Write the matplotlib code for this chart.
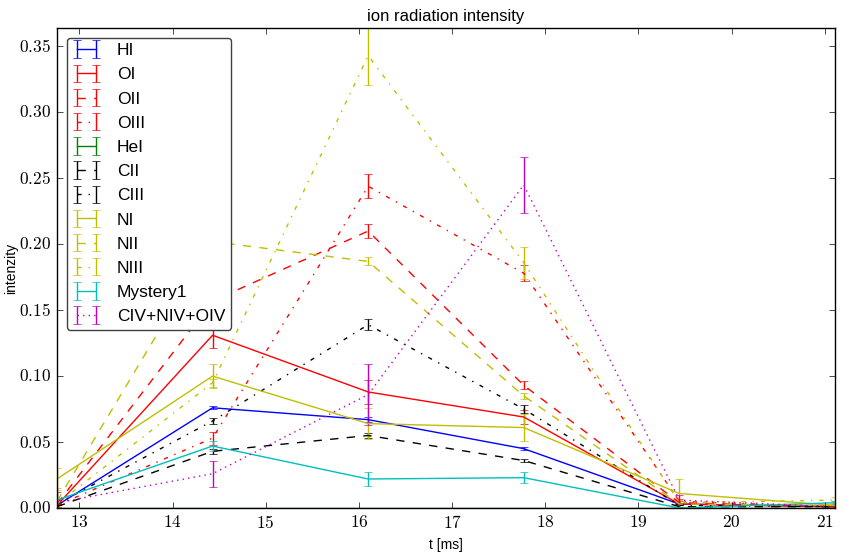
import numpy as np
import matplotlib
matplotlib.use("Agg")
import matplotlib.pyplot as plt
from matplotlib.ticker import FuncFormatter

plt.style.use('classic')
plt.rcParams['mathtext.fontset'] = 'cm'
plt.rcParams['font.family'] = ['Liberation Sans', 'DejaVu Sans']

t = np.array([12.76, 14.43, 16.10, 17.77, 19.44, 21.11])

labels = ["HI", "OI", "OII", "OIII", "HeI", "CII", "CIII",
          "NI", "NII", "NIII", "Mystery1", "CIV+NIV+OIV"]

HI = [0.002, 0.076, 0.067, 0.045, 0.003, 0.001]
HI_err = [0.001, 0.001, 0.002, 0.001, 0.001, 0.001]
OI = [0.002, 0.131, 0.088, 0.069, 0.003, 0.001]
OI_err = [0.001, 0.010, 0.009, 0.005, 0.001, 0.001]
OII = [0.003, 0.157, 0.210, 0.093, 0.004, 0.001]
OII_err = [0.001, 0.003, 0.005, 0.003, 0.001, 0.001]
OIII = [0.002, 0.053, 0.244, 0.178, 0.005, 0.001]
OIII_err = [0.001, 0.005, 0.009, 0.006, 0.002, 0.001]
HeI = [0.0, 0.0, 0.0, 0.0, 0.0, 0.0]
HeI_err = [0.0, 0.0, 0.0, 0.0, 0.0, 0.0]
CII = [0.001, 0.043, 0.055, 0.036, 0.001, 0.001]
CII_err = [0.001, 0.002, 0.002, 0.001, 0.001, 0.001]
CIII = [0.003, 0.066, 0.139, 0.075, 0.002, 0.001]
CIII_err = [0.001, 0.002, 0.004, 0.003, 0.001, 0.001]
NI = [0.022, 0.100, 0.064, 0.061, 0.011, 0.002]
NI_err = [0.008, 0.009, 0.012, 0.010, 0.011, 0.001]
NII = [0.005, 0.202, 0.187, 0.085, 0.003, 0.002]
NII_err = [0.010, 0.002, 0.003, 0.002, 0.001, 0.001]
NIII = [0.003, 0.095, 0.343, 0.186, 0.004, 0.006]
NIII_err = [0.002, 0.003, 0.022, 0.012, 0.002, 0.002]
Mystery1 = [0.006, 0.047, 0.022, 0.023, 0.0, 0.004]
Mystery1_err = [0.001, 0.004, 0.005, 0.004, 0.001, 0.001]
CIV = [0.004, 0.026, 0.086, 0.245, 0.006, 0.001]
CIV_err = [0.008, 0.010, 0.023, 0.0215, 0.004, 0.001]

series = [HI, OI, OII, OIII, HeI, CII, CIII, NI, NII, NIII, Mystery1, CIV]
errors = [HI_err, OI_err, OII_err, OIII_err, HeI_err, CII_err, CIII_err,
          NI_err, NII_err, NIII_err, Mystery1_err, CIV_err]
colors = ['b', 'r', 'r', 'r', 'g', 'k', 'k', 'y', 'y', 'y', 'c', 'm']
styles = ['-', '-', '--', '-.', '-', '--', '-.', '-', '--', '-.', '-', ':']

fig = plt.figure(figsize=(8.44, 5.52), dpi=100)
ax = fig.add_axes([0.0675, 0.0797, 0.9218, 0.8696])

for y, e, c, ls, lab in zip(series, errors, colors, styles, labels):
    ax.errorbar(t, y, yerr=e, color=c, linestyle=ls, label=lab, capsize=3)

ax.set_xlim(12.76, 21.11)
ax.set_ylim(0.0, 0.364)
ax.set_xticks(np.arange(13, 22, 1))
ax.set_yticks(np.arange(0, 0.36, 0.05))
ax.xaxis.set_major_formatter(FuncFormatter(lambda v, p: r"$%d$" % round(v)))
ax.yaxis.set_major_formatter(FuncFormatter(lambda v, p: r"$%.2f$" % v))
ax.tick_params(labelsize=12.5)

ax.set_title("ion radiation intensity", fontsize=12)
ax.set_xlabel("t [ms]", fontsize=10)
ax.set_ylabel("intenzity", fontsize=10)
ax.yaxis.set_label_coords(-0.05, 0.5)
leg = ax.legend(loc='upper left', fancybox=True, fontsize=12.5, numpoints=2,
                handlelength=1.67, handletextpad=0.92, borderaxespad=0.55,
                labelspacing=0.52, borderpad=0.32)
leg.get_frame().set_edgecolor('0.25')

fig.savefig("out.png", dpi=100)
